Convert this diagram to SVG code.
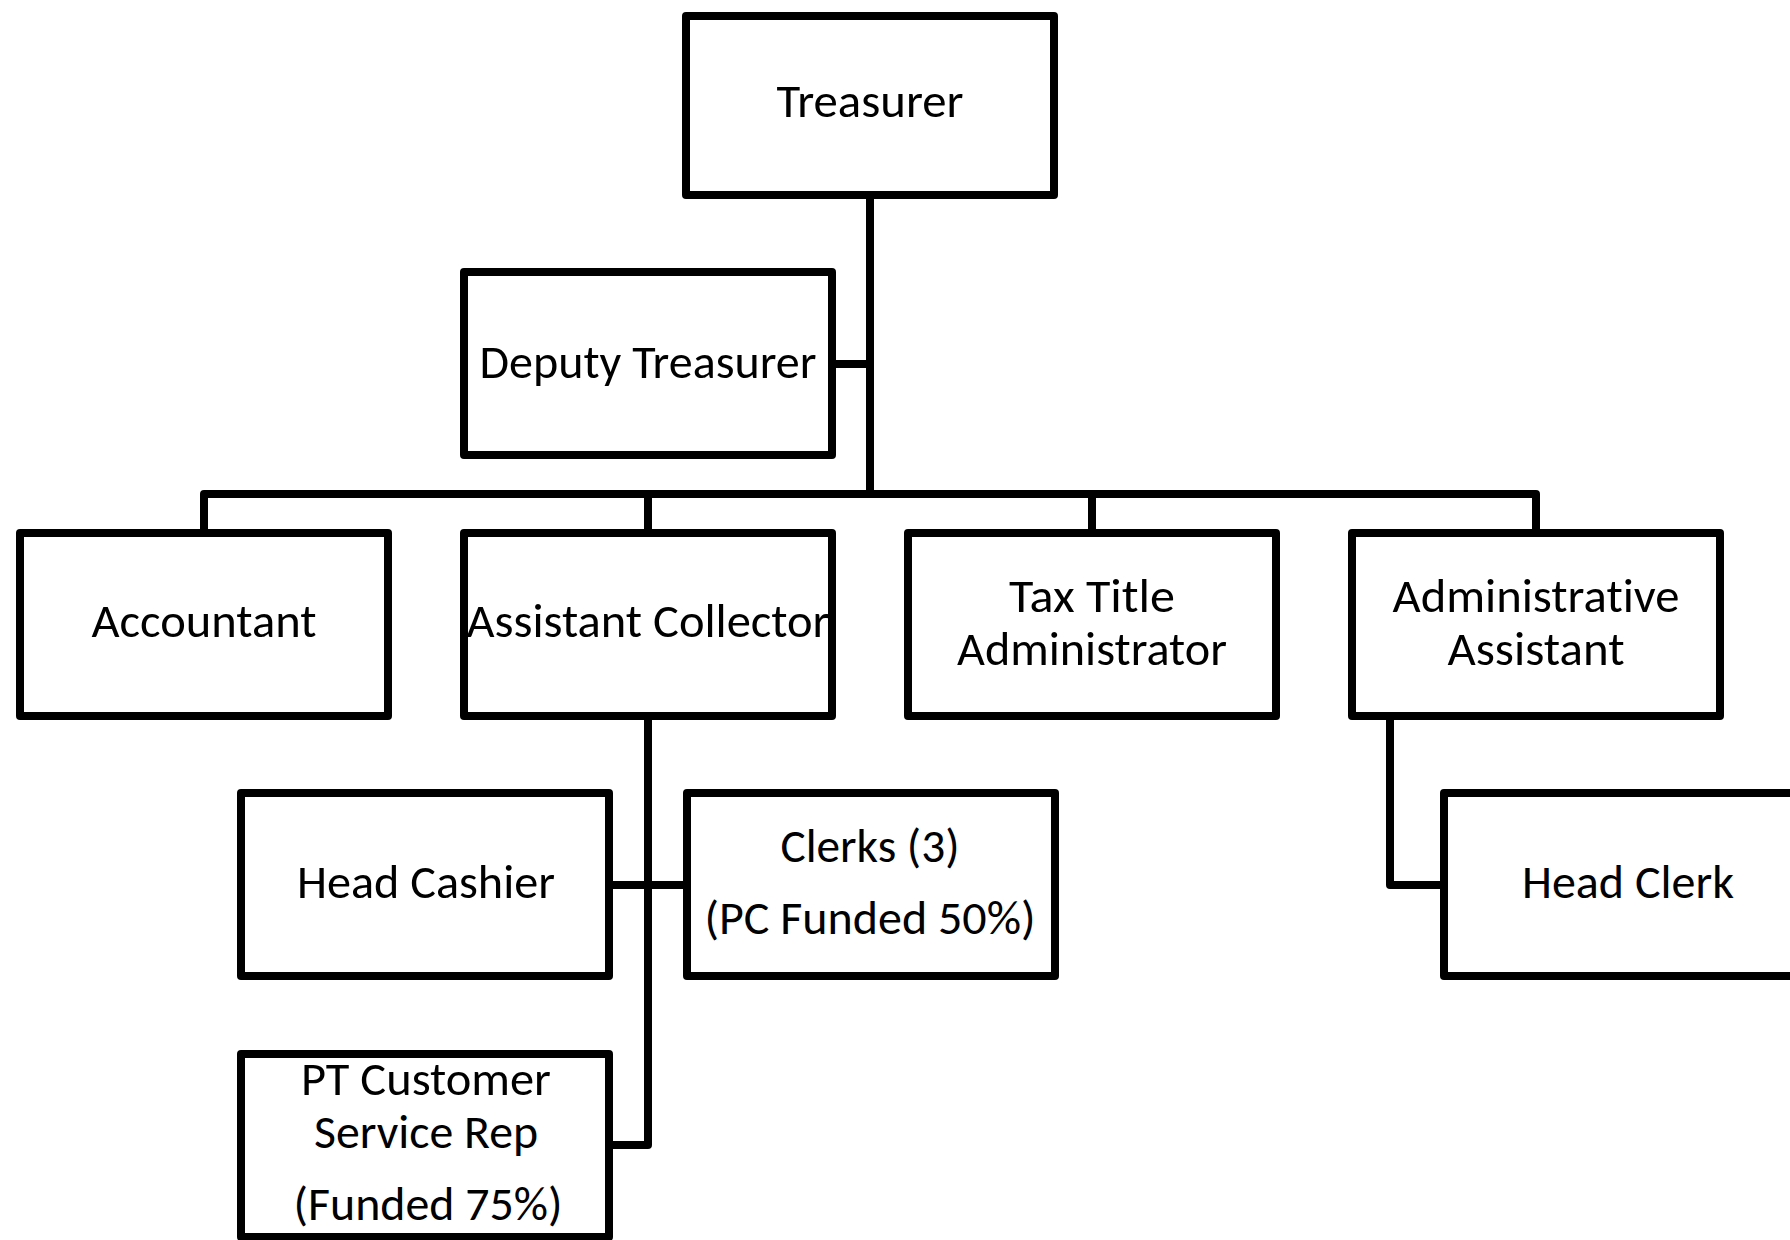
<svg xmlns="http://www.w3.org/2000/svg" width="1790" height="1240" viewBox="0 0 1790 1240">
  <style>
    .box { fill: #ffffff; stroke: #000000; stroke-width: 8; stroke-linejoin: round; }
    .link { fill: none; stroke: #000000; stroke-width: 8; stroke-linejoin: round; }
    .label { font-family: Carlito, "Open Sans", "Noto Sans", sans-serif; font-size: 48px; fill: #000000; text-anchor: middle; font-variant-ligatures: none; }
  </style>
  <rect x="0" y="0" width="1790" height="1240" fill="#ffffff"/>

  <!-- reporting lines -->
  <g id="connectors">
    <path class="link" d="M870 199 V494"/>
    <path class="link" d="M832 364 H870"/>
    <path class="link" d="M204 529 V494 H1536 V529"/>
    <path class="link" d="M648 494 V529"/>
    <path class="link" d="M1092 494 V529"/>
    <path class="link" d="M648 720 V1145 H609"/>
    <path class="link" d="M609 885 H687"/>
    <path class="link" d="M1390 720 V885 H1444"/>
  </g>

  <g id="treasurer">
    <rect class="box" x="686" y="16" width="368" height="179"/>
    <text class="label" x="870" y="117" textLength="187" lengthAdjust="spacingAndGlyphs">Treasurer</text>
  </g>

  <g id="deputy-treasurer">
    <rect class="box" x="464" y="272" width="368" height="183"/>
    <text class="label" x="648" y="378" textLength="337" lengthAdjust="spacingAndGlyphs">Deputy Treasurer</text>
  </g>

  <g id="accountant">
    <rect class="box" x="20" y="533" width="368" height="183"/>
    <text class="label" x="204" y="637" textLength="225" lengthAdjust="spacingAndGlyphs">Accountant</text>
  </g>

  <g id="assistant-collector">
    <rect class="box" x="464" y="533" width="368" height="183"/>
    <text class="label" x="648" y="637" textLength="363" lengthAdjust="spacingAndGlyphs">Assistant Collector</text>
  </g>

  <g id="tax-title-administrator">
    <rect class="box" x="908" y="533" width="368" height="183"/>
    <text class="label" x="1092" y="612" textLength="166" lengthAdjust="spacingAndGlyphs">Tax Title</text>
    <text class="label" x="1092" y="665" textLength="270" lengthAdjust="spacingAndGlyphs">Administrator</text>
  </g>

  <g id="administrative-assistant">
    <rect class="box" x="1352" y="533" width="368" height="183"/>
    <text class="label" x="1536" y="612" textLength="287" lengthAdjust="spacingAndGlyphs">Administrative</text>
    <text class="label" x="1536" y="665" textLength="177" lengthAdjust="spacingAndGlyphs">Assistant</text>
  </g>

  <g id="head-cashier">
    <rect class="box" x="241" y="793" width="368" height="183"/>
    <text class="label" x="426" y="898" textLength="258" lengthAdjust="spacingAndGlyphs">Head Cashier</text>
  </g>

  <g id="clerks">
    <rect class="box" x="687" y="793" width="368" height="183"/>
    <text class="label" x="870" y="862" textLength="179" lengthAdjust="spacingAndGlyphs">Clerks (3)</text>
    <text class="label" x="870" y="934" textLength="331" lengthAdjust="spacingAndGlyphs">(PC Funded 50%)</text>
  </g>

  <g id="pt-customer-service-rep">
    <rect class="box" x="241" y="1054" width="368" height="183"/>
    <text class="label" x="426" y="1095" textLength="250" lengthAdjust="spacingAndGlyphs">PT Customer</text>
    <text class="label" x="426" y="1148" textLength="224" lengthAdjust="spacingAndGlyphs">Service Rep</text>
    <text class="label" x="428" y="1220" textLength="269" lengthAdjust="spacingAndGlyphs">(Funded 75%)</text>
  </g>

  <g id="head-clerk">
    <rect class="box" x="1444" y="793" width="368" height="183"/>
    <text class="label" x="1628" y="898" textLength="212" lengthAdjust="spacingAndGlyphs">Head Clerk</text>
  </g>
</svg>
